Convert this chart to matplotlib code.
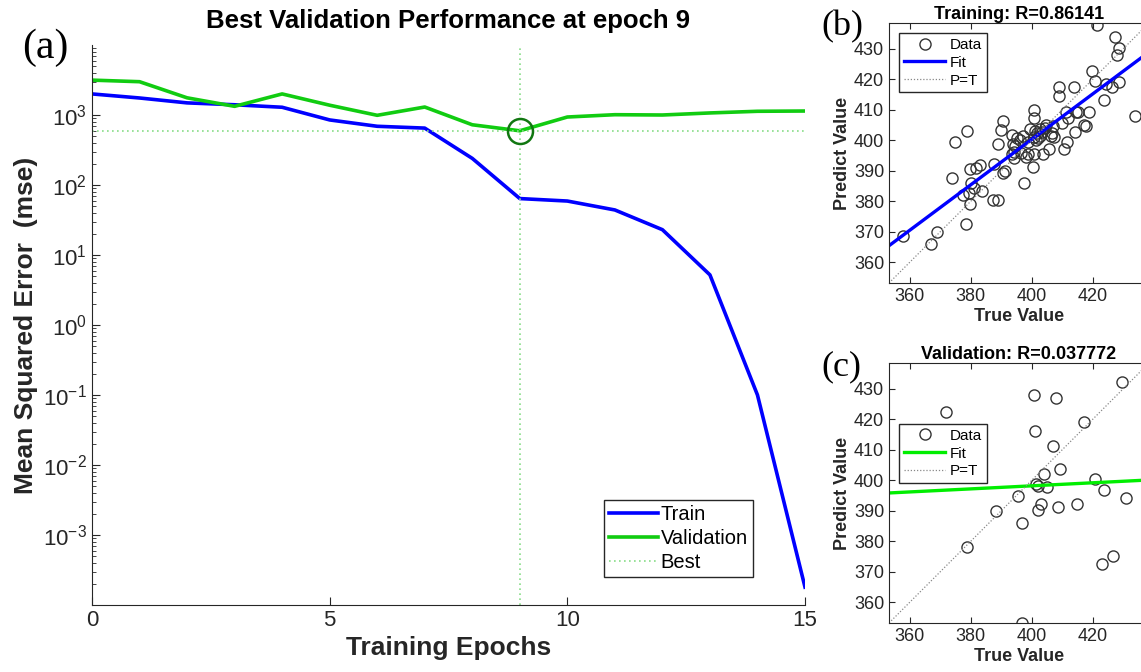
import numpy as np
import matplotlib
matplotlib.use("Agg")
import matplotlib.pyplot as plt

plt.rcParams['font.family'] = ['Liberation Sans', 'DejaVu Sans']

# (a) performance curves
epochs = [0, 1, 2, 3, 4, 5, 6, 7, 8, 9, 10, 11, 12, 13, 14, 15]
train_mse = [2000, 1750, 1490, 1400, 1290, 850, 690, 650, 240, 64, 59, 44, 23, 5.2, 0.1, 1.8e-4]
val_mse = [3150, 2990, 1760, 1330, 2000, 1380, 990, 1300, 725, 595, 936, 1010, 1000, 1070, 1130, 1140]
best_epoch = 9
best_val = 595

# (b) training regression
train_true = [357.7, 366.9, 369.1, 374.0, 374.8, 378.4, 378.8, 377.6, 379.5, 379.9,
              379.9, 380.0, 381.1, 381.6, 383.1, 383.8, 387.3, 388.9, 387.8, 388.9,
              390.1, 390.7, 390.7, 391.3, 393.4, 393.7, 393.8, 394.1, 394.5, 394.3,
              395.1, 396.3, 396.5, 397.0, 397.4, 398.1, 398.7, 398.9, 399.5, 400.3,
              400.7, 400.8, 400.8, 400.7, 401.1, 401.4, 401.7, 402.2, 402.6, 402.9,
              403.4, 403.8, 404.3, 404.7, 405.8, 406.4, 406.8, 407.3, 407.1, 408.9,
              409.1, 410.1, 410.5, 411.4, 411.6, 412.0, 413.9, 414.1, 414.5, 415.3,
              417.3, 417.8, 418.7, 419.7, 420.9, 421.6, 423.7, 424.4, 426.2, 427.5,
              428.0, 428.7, 428.7, 433.8]
train_pred = [368.6, 365.9, 369.8, 387.8, 399.3, 372.6, 403.2, 382.1, 382.6, 379.0,
              390.7, 386.1, 384.5, 390.8, 391.8, 383.4, 380.5, 380.3, 392.3, 398.8,
              403.4, 406.4, 389.4, 390.1, 395.4, 401.8, 398.8, 394.1, 398.2, 396.3,
              400.7, 400.1, 395.8, 401.4, 386.1, 394.7, 399.3, 395.5, 403.6, 391.4,
              395.4, 410.0, 407.2, 401.2, 403.1, 400.1, 402.3, 400.9, 403.7, 401.4,
              402.9, 395.4, 404.2, 405.1, 397.1, 401.4, 402.3, 401.0, 404.7, 414.4,
              417.4, 405.6, 397.1, 409.4, 399.3, 407.2, 417.4, 402.6, 409.4, 409.4,
              405.1, 404.8, 409.4, 422.9, 419.6, 437.7, 413.3, 418.5, 417.6, 433.8,
              428.0, 430.2, 419.3, 408.1]
train_fit = (0.745, 102.3)
train_r = "0.86141"

# (c) validation regression
val_true = [372.0, 378.8, 388.4, 395.4, 396.9, 396.9, 400.7, 401.0, 401.3, 402.0,
            402.1, 403.1, 403.9, 405.0, 406.9, 408.1, 408.5, 409.2, 414.9, 417.2,
            420.9, 423.0, 423.9, 426.8, 429.8, 430.9]
val_pred = [422.5, 378.1, 390.0, 395.0, 385.9, 353.3, 428.0, 416.2, 398.8, 398.1,
            390.3, 392.2, 402.0, 397.7, 411.4, 427.1, 391.4, 403.8, 392.2, 419.1,
            400.5, 372.4, 396.9, 375.3, 432.2, 394.2]
val_fit = (0.05, 378.2)
val_r = "0.037772"

lim = (353.2, 438.5)
txt = '#262626'

fig = plt.figure(figsize=(11.41, 6.72), dpi=100)

# ---- (a)
ax = fig.add_axes([92/1141, 67/672, 713/1141, 560/672])
ax.plot(epochs, train_mse, color='#0000ff', lw=2.6, label='Train')
ax.plot(epochs, val_mse, color='#11cc11', lw=2.6, label='Validation')
ax.axhline(best_val, color='#88dd88', lw=1.2, ls=(0, (1, 2)), label='Best')
ax.axvline(best_epoch, color='#88dd88', lw=1.2, ls=(0, (1, 2)))
ax.plot([best_epoch], [best_val], 'o', mfc='none', mec='#117711', ms=18, mew=1.8)
ax.set_yscale('log')
ax.set_xlim(0, 15)
ax.set_ylim(1e-4, 1e4)
ax.set_yticks([1e-3, 1e-2, 1e-1, 1, 10, 100, 1000])
ax.set_xticks([0, 5, 10, 15])
for s in ['top', 'right']:
    ax.spines[s].set_visible(False)
for s in ['left', 'bottom']:
    ax.spines[s].set_color(txt)
ax.tick_params(direction='in', labelsize=16, colors=txt, length=6)
ax.tick_params(which='minor', direction='in', length=3, colors=txt)
ax.set_title('Best Validation Performance at epoch 9', fontsize=18.5, fontweight='bold', pad=12)
ax.set_xlabel('Training Epochs', fontsize=19, fontweight='bold', color=txt, labelpad=4)
ax.set_ylabel('Mean Squared Error  (mse)', fontsize=19, fontweight='bold', color=txt, labelpad=4)
leg = ax.legend(loc='lower right', bbox_to_anchor=(0.927, 0.05), fontsize=14.5, handlelength=2.4,
                handletextpad=0.15, borderpad=0.25, labelspacing=0.25, fancybox=False,
                edgecolor=txt, framealpha=1, borderaxespad=0)
leg.get_frame().set_linewidth(1.0)
fig.text(22/1141, 1 - 48/672, '(a)', family='Liberation Serif', fontsize=30, va='center')


def regression(rect, xs, ys, fit, color, title, label, legend_anchor):
    a = fig.add_axes(rect)
    a.plot(xs, ys, 'o', mfc='none', mec='#333333', ms=8, mew=1.0, label='Data')
    gx = np.array(lim)
    a.plot(gx, fit[0] * gx + fit[1], color=color, lw=2.4, label='Fit')
    a.plot(gx, gx, color='#888888', lw=0.9, ls=(0, (1, 1.5)), label='P=T')
    a.set_xlim(lim)
    a.set_ylim(lim)
    a.set_xticks([360, 380, 400, 420])
    a.set_yticks([360, 370, 380, 390, 400, 410, 420, 430])
    a.tick_params(direction='in', labelsize=13, colors=txt, length=4, top=True, right=True)
    for s in a.spines.values():
        s.set_color(txt)
    a.set_title(title, fontsize=13, fontweight='bold', pad=3)
    a.set_xlabel('True Value', fontsize=13, fontweight='bold', color=txt, labelpad=2)
    a.set_ylabel('Predict Value', fontsize=13, fontweight='bold', color=txt, labelpad=2)
    lg = a.legend(loc='upper left', bbox_to_anchor=legend_anchor, fontsize=11, handlelength=2.7,
                  handletextpad=0.3, borderpad=0.3, labelspacing=0.25, fancybox=False,
                  edgecolor=txt, framealpha=1, borderaxespad=0)
    lg.get_frame().set_linewidth(1.0)
    fig.text(rect[0] - 68/1141, rect[1] + rect[3] - 4/672, label, family='Liberation Serif',
             fontsize=26, va='center')
    return a


regression([889/1141, 389/672, 260/1141, 260/672], train_true, train_pred, train_fit,
           '#0000ff', 'Training: R=' + train_r, '(b)', (0.04, 0.96))
regression([889/1141, 49/672, 260/1141, 260/672], val_true, val_pred, val_fit,
           '#00ee00', 'Validation: R=' + val_r, '(c)', (0.04, 0.765))

fig.savefig('out.png', dpi=100)
